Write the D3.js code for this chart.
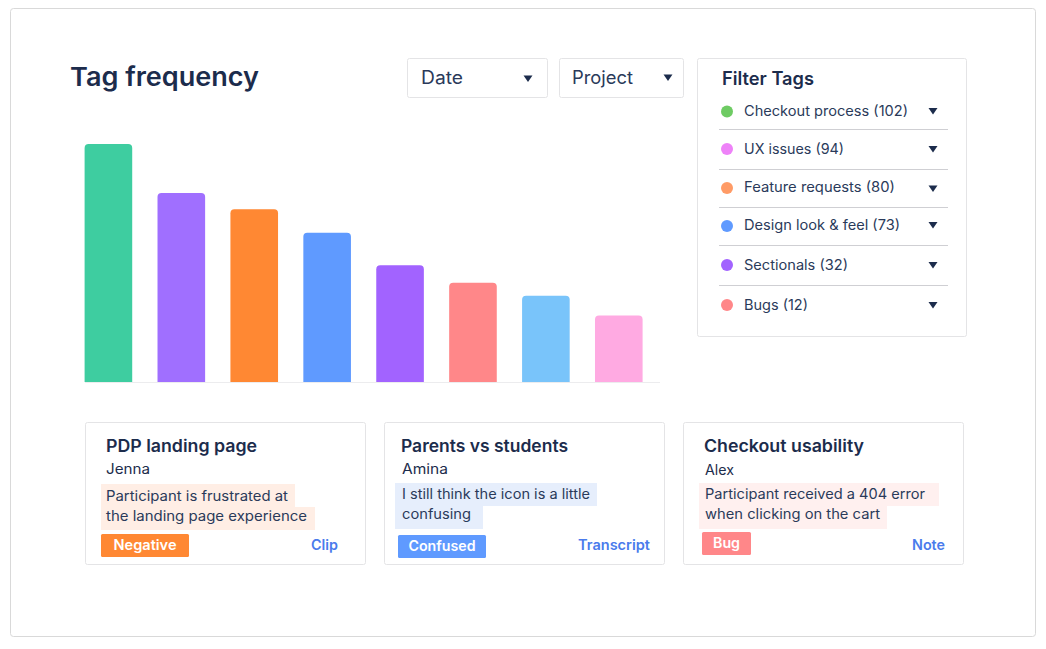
<!DOCTYPE html>
<html>
<head>
<meta charset="utf-8">
<title>Tag frequency</title>
<script src="https://cdn.jsdelivr.net/npm/d3@7"></script>
<style>
  html, body { margin: 0; padding: 0; background: #fff; }
  svg { display: block; }
  text { font-family: Inter, "Open Sans", sans-serif; fill: #1c2c4c; }
</style>
</head>
<body>
<div id="chart"></div>
<script>
// Bars have no labels in the picture, values read off their heights
const barIds = ["a", "b", "c", "d", "e", "f", "g", "h"];
const barValues = [102, 81, 74, 64, 50, 42.5, 37, 28.5];
const barColors = ["#3ecda0", "#a06fff", "#ff8833", "#5f9aff", "#a263ff", "#ff8789", "#79c4fa", "#ffaae2"];

const tagNames = ["Checkout process", "UX issues", "Feature requests", "Design look & feel", "Sectionals", "Bugs"];
const tagCounts = [102, 94, 80, 73, 32, 12];
const tagColors = ["#6ecb63", "#ee82f8", "#ff9b66", "#5f9aff", "#a263ff", "#ff8789"];

const cardTitles = ["PDP landing page", "Parents vs students", "Checkout usability"];
const cardNames = ["Jenna", "Amina", "Alex"];
const cardQuotes = [
    ["Participant is frustrated at", "the landing page experience"],
    ["I still think the icon is a little", "confusing"],
    ["Participant received a 404 error", "when clicking on the cart"]
];
const cardTags = ["Negative", "Confused", "Bug"];
const cardLinks = ["Clip", "Transcript", "Note"];

const filterLabels = ["Date", "Project"];

const width = 1046, height = 649;
const ink = "#1c2c4c", soft = "#2a3a5a", hairline = "#e4e4e6";

let svg = d3.select("#chart").append("svg")
    .attr("width", width)
    .attr("height", height);

// outer frame
svg.append("rect")
    .attr("x", 10.5).attr("y", 8.5)
    .attr("width", 1025).attr("height", 628)
    .attr("rx", 3)
    .attr("fill", "#fff")
    .attr("stroke", "#d9d9d9");

svg.append("text")
    .attr("x", 70).attr("y", 86)
    .style("font-size", "26px")
    .style("font-weight", 600)
    .attr("textLength", 189)
    .attr("lengthAdjust", "spacingAndGlyphs")
    .text("Tag frequency");

// small down arrow used by every dropdown
function arrow(g, cx, cy) {
    g.append("path")
        .attr("d", d3.line()([[cx - 4.5, cy - 3], [cx + 4.5, cy - 3], [cx, cy + 3.5]]) + "Z")
        .attr("fill", ink);
}

function box(x, y, w, h) {
    return svg.append("rect")
        .attr("x", x).attr("y", y)
        .attr("width", w).attr("height", h)
        .attr("rx", 2)
        .attr("fill", "#fff")
        .attr("stroke", hairline);
}

// Date and Project dropdowns
const filterLayout = [
    {x: 407.5, w: 140, tx: 421, ax: 528, ay: 78.5, tw: 42},
    {x: 559.5, w: 124, tx: 572, ax: 668, ay: 77.5, tw: 61}
];
filterLabels.forEach(function (label, i) {
    let l = filterLayout[i];
    box(l.x, 58.5, l.w, 39);
    svg.append("text")
        .attr("x", l.tx).attr("y", 84)
        .style("font-size", "18px")
        .style("fill", soft)
        .attr("textLength", l.tw)
        .attr("lengthAdjust", "spacingAndGlyphs")
        .text(label);
    arrow(svg, l.ax, l.ay);
});

// bar chart
let x = d3.scaleBand()
    .domain(barIds)
    .range([84.6, 642.6])
    .paddingInner(0.347)
    .paddingOuter(0);

let y = d3.scaleLinear()
    .domain([0, d3.max(barValues)])
    .range([382, 144]);

function barPath(d, i) {
    let x0 = x(barIds[i]), x1 = x0 + x.bandwidth(), top = y(d), bottom = y(0), r = 4;
    let p = d3.path();
    p.moveTo(x0, bottom);
    p.lineTo(x0, top + r);
    p.quadraticCurveTo(x0, top, x0 + r, top);
    p.lineTo(x1 - r, top);
    p.quadraticCurveTo(x1, top, x1, top + r);
    p.lineTo(x1, bottom);
    p.closePath();
    return p.toString();
}

svg.append("line")
    .attr("x1", 85).attr("x2", 660)
    .attr("y1", y(0) + 0.5).attr("y2", y(0) + 0.5)
    .attr("stroke", "#ececee");

svg.selectAll("path.bar")
    .data(barValues)
    .enter()
    .append("path")
    .attr("class", "bar")
    .attr("d", barPath)
    .attr("fill", function (d, i) { return barColors[i]; });

// Filter Tags panel
box(697.5, 58.5, 269, 278);
svg.append("text")
    .attr("x", 722).attr("y", 85)
    .style("font-size", "18px")
    .style("font-weight", 600)
    .attr("textLength", 92)
    .attr("lengthAdjust", "spacingAndGlyphs")
    .text("Filter Tags");

const dotY = [111.5, 149, 188, 226, 265, 305];
const labelY = [116, 154, 192, 230, 270, 310];
const arrowY = [111, 149, 188.5, 225, 265, 305];
const dividerY = [129.5, 169.5, 207.5, 245.5, 285.5];
const rowTextWidth = [164, 100, 151, 156, 104, 64];

tagNames.forEach(function (name, i) {
    let row = svg.append("g");
    row.append("circle")
        .attr("cx", 727).attr("cy", dotY[i]).attr("r", 6)
        .attr("fill", tagColors[i]);
    row.append("text")
        .attr("x", 744).attr("y", labelY[i])
        .style("font-size", "14px")
        .style("fill", soft)
        .attr("textLength", rowTextWidth[i])
        .attr("lengthAdjust", "spacingAndGlyphs")
        .text(name + " (" + tagCounts[i] + ")");
    arrow(row, 933, arrowY[i]);
    if (i < dividerY.length) {
        row.append("line")
            .attr("x1", 719).attr("x2", 948)
            .attr("y1", dividerY[i]).attr("y2", dividerY[i])
            .attr("stroke", "#cfcfd3");
    }
});

// Insight cards
const cardLayout = [
    {x: 85.5, tx: 106, tw: 151, nx: 106, nw: 44, ny: 474, hx: 101, hy: 484, hw: [194, 214], qx: 106, qy: [501, 521], qw: [182, 201],
     tagX: 101, tagY: 534, tagW: 88, tagTW: 63, lx: 311, lw: 27, color: "#ff8833", tint: "#ffeee5"},
    {x: 384.5, tx: 401, tw: 167, nx: 402, nw: 46, ny: 474, hx: 395, hy: 483, hw: [202, 88], qx: 402, qy: [499, 519], qw: [188, 69],
     tagX: 398, tagY: 535, tagW: 88, tagTW: 67, lx: 578, lw: 72, color: "#5f9aff", tint: "#e6eefc"},
    {x: 683.5, tx: 704, tw: 160, nx: 705, nw: 29, ny: 475, hx: 699, hy: 483, hw: [240, 188], qx: 705, qy: [499, 519], qw: [220, 175],
     tagX: 702, tagY: 532, tagW: 49, tagTW: 27, lx: 912, lw: 33, color: "#ff8789", tint: "#fff0ef"}
];

cardTitles.forEach(function (title, i) {
    let l = cardLayout[i];
    box(l.x, 422.5, 280, 142);

    svg.append("text")
        .attr("x", l.tx).attr("y", 452)
        .style("font-size", "17px")
        .style("font-weight", 600)
        .attr("textLength", l.tw)
        .attr("lengthAdjust", "spacingAndGlyphs")
        .text(title);

    svg.append("text")
        .attr("x", l.nx).attr("y", l.ny)
        .style("font-size", "14px")
        .attr("textLength", l.nw)
        .attr("lengthAdjust", "spacingAndGlyphs")
        .text(cardNames[i]);

    cardQuotes[i].forEach(function (line, j) {
        svg.append("rect")
            .attr("x", l.hx).attr("y", l.hy + j * 23)
            .attr("width", l.hw[j]).attr("height", 23)
            .attr("fill", l.tint);
    });
    cardQuotes[i].forEach(function (line, j) {
        svg.append("text")
            .attr("x", l.qx).attr("y", l.qy[j])
            .style("font-size", "14px")
            .style("fill", soft)
            .attr("textLength", l.qw[j])
            .attr("lengthAdjust", "spacingAndGlyphs")
            .text(line);
    });

    svg.append("rect")
        .attr("x", l.tagX).attr("y", l.tagY)
        .attr("width", l.tagW).attr("height", 23)
        .attr("rx", 1.5)
        .attr("fill", l.color);
    svg.append("text")
        .attr("x", l.tagX + l.tagW / 2).attr("y", l.tagY + 16)
        .style("text-anchor", "middle")
        .style("font-size", "14px")
        .style("font-weight", 600)
        .style("fill", "#fff")
        .attr("textLength", l.tagTW)
        .attr("lengthAdjust", "spacingAndGlyphs")
        .text(cardTags[i]);

    svg.append("text")
        .attr("x", l.lx).attr("y", 550)
        .style("font-size", "14px")
        .style("font-weight", 600)
        .style("fill", "#4a7bec")
        .attr("textLength", l.lw)
        .attr("lengthAdjust", "spacingAndGlyphs")
        .text(cardLinks[i]);
});
</script>
</body>
</html>
